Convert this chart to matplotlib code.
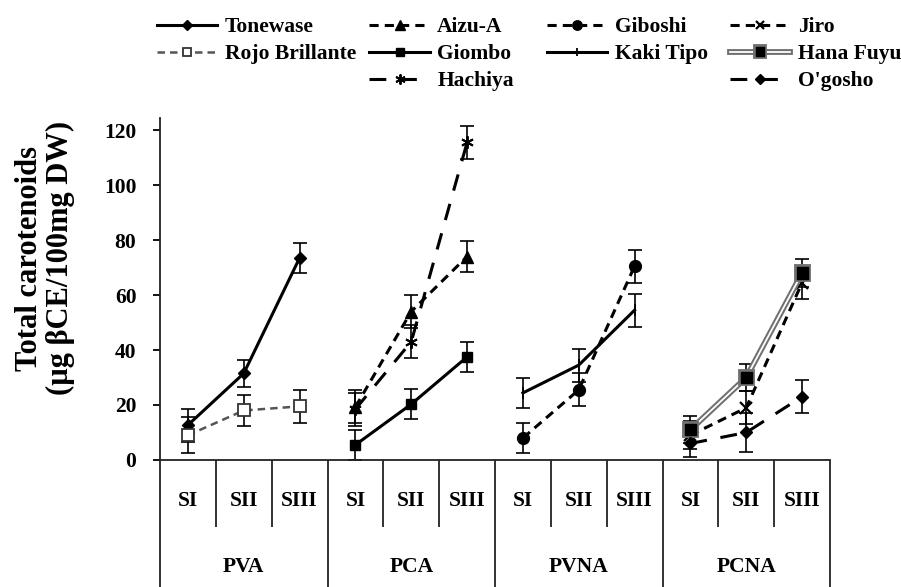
"""
Total carotenoids per cultivar, grouped by astringency type and stage.
Output: out.png
"""

import numpy as np
import matplotlib.pyplot as plt
import matplotlib as mpl
import matplotlib.patheffects as pe

mpl.rcParams.update({
    'font.family': 'Liberation Serif',
    'font.weight': 'bold',
    'font.size':   15.5,
})

stages = ['SI', 'SII', 'SIII']
groups = ['PVA', 'PCA', 'PVNA', 'PCNA']

# PVA
tonewase = [12.7, 31.5, 73.5]
tonewase_err = [6, 5, 5.5]
rojo_brillante = [9, 18, 19.5]
rojo_brillante_err = [6.5, 5.5, 6]
# PCA
aizu_a = [19.3, 54, 74]
aizu_a_err = [6, 6, 5.5]
giombo = [5.5, 20.3, 37.5]
giombo_err = [5.5, 5.5, 5.5]
hachiya = [18.5, 43, 115.5]
hachiya_err = [6, 6, 6]
# PVNA
giboshi = [8, 25.5, 70.5]
giboshi_err = [5.5, 6, 6]
kaki_tipo = [24.4, 34.5, 54.5]
kaki_tipo_err = [5.5, 6, 6]
# PCNA
jiro = [9, 19, 64.5]
jiro_err = [5, 6, 6]
hana_fuyu = [11, 30, 68]
hana_fuyu_err = [5, 5, 5]
ogosho = [6, 10, 23]
ogosho_err = [5, 7, 6]

SHORT = (3, 2)
LONG = (5.5, 4.5)


def draw(ax, group, vals, errs, label, **style):
    g = groups.index(group)
    x = g * len(stages) + np.arange(len(stages)) + 0.5
    ax.errorbar(x, vals, yerr=errs, fmt='none', ecolor='black',
                elinewidth=1.2, capsize=5, capthick=1.2, zorder=2)
    line, = ax.plot(x, vals, label=label, zorder=3, **style)
    return line


fig = plt.figure(figsize=(9.01, 5.87), dpi=100)
ax = fig.add_axes([0.1776, 0.2164, 0.7436, 0.5826])

h = {}
h['Tonewase'] = draw(ax, 'PVA', tonewase, tonewase_err, 'Tonewase',
                     color='black', lw=2.2, marker='D', ms=6)
h['Rojo Brillante'] = draw(ax, 'PVA', rojo_brillante, rojo_brillante_err,
                           'Rojo Brillante', color='#555555', lw=1.8,
                           dashes=SHORT, marker='s', ms=8, mfc='white',
                           mec='#333333', mew=1.3)
h['Aizu-A'] = draw(ax, 'PCA', aizu_a, aizu_a_err, 'Aizu-A', color='black',
                   lw=2.2, dashes=SHORT, marker='^', ms=9)
h['Giombo'] = draw(ax, 'PCA', giombo, giombo_err, 'Giombo', color='black',
                   lw=2.2, marker='s', ms=7.5)
h['Hachiya'] = draw(ax, 'PCA', hachiya, hachiya_err, 'Hachiya',
                    color='black', lw=2.2, dashes=LONG, marker=(6, 2, 0),
                    ms=9, mew=1.4)
h['Giboshi'] = draw(ax, 'PVNA', giboshi, giboshi_err, 'Giboshi',
                    color='black', lw=2.2, dashes=SHORT, marker='o', ms=8.5)
h['Kaki Tipo'] = draw(ax, 'PVNA', kaki_tipo, kaki_tipo_err, 'Kaki Tipo',
                      color='black', lw=2.2, marker='|', ms=8, mew=1.3)
h['Jiro'] = draw(ax, 'PCNA', jiro, jiro_err, 'Jiro', color='black', lw=2.2,
                 dashes=SHORT, marker='x', ms=8, mew=1.6)
h['Hana Fuyu'] = draw(ax, 'PCNA', hana_fuyu, hana_fuyu_err, 'Hana Fuyu',
                      color='white', lw=1.3, marker='s', ms=8, mfc='black',
                      mec='black',
                      path_effects=[pe.Stroke(linewidth=4.2,
                                              foreground='#707070'),
                                    pe.Normal()])
h["O'gosho"] = draw(ax, 'PCNA', ogosho, ogosho_err, "O'gosho",
                    color='black', lw=2.2, dashes=LONG, marker='D', ms=6.5)

n = len(groups) * len(stages)
ax.set_xlim(0, n)
ax.set_ylim(0, 124.4)
ax.set_yticks(np.arange(0, 121, 20))
ax.set_xticks([])
ax.tick_params(axis='y', direction='out', length=5, width=1.3, pad=12,
               labelsize=15.5)
for s in ('top', 'right'):
    ax.spines[s].set_visible(False)
for s in ('left', 'bottom'):
    ax.spines[s].set_linewidth(1.3)
    ax.spines[s].set_color('#222222')

# category table under the axis
bounds = np.arange(n + 1)
major = bounds[bounds % len(stages) == 0]
minor = bounds[bounds % len(stages) != 0]
ax.vlines(major, -50, 0, color='#222222', lw=1.3, clip_on=False)
ax.vlines(minor, -24.4, 0, color='#222222', lw=1.3, clip_on=False)
for g, grp in enumerate(groups):
    for s, st in enumerate(stages):
        ax.text(g * len(stages) + s + 0.5, -15, st, ha='center',
                va='center', fontsize=15.5)
    ax.text(g * len(stages) + len(stages) / 2, -39, grp, ha='center',
            va='center', fontsize=15.5)

fig.text(0.05, 0.56, 'Total carotenoids\n(\u00b5g \u03b2CE/100mg DW)',
         rotation=90, ha='center', va='center', multialignment='center',
         fontsize=22, linespacing=1.1)

columns = [
    (0.174, ['Tonewase', 'Rojo Brillante']),
    (0.410, ['Aizu-A', 'Giombo', 'Hachiya']),
    (0.607, ['Giboshi', 'Kaki Tipo']),
    (0.810, ['Jiro', 'Hana Fuyu', "O'gosho"]),
]
for xpos, names in columns:
    fig.legend([h[k] for k in names], names, loc='upper left',
               bbox_to_anchor=(xpos, 0.971), bbox_transform=fig.transFigure,
               frameon=False, handlelength=2.8, handletextpad=0.35,
               labelspacing=0.33, borderpad=0, borderaxespad=0,
               markerscale=0.8, fontsize=15.5)

fig.savefig('out.png', dpi=100)
